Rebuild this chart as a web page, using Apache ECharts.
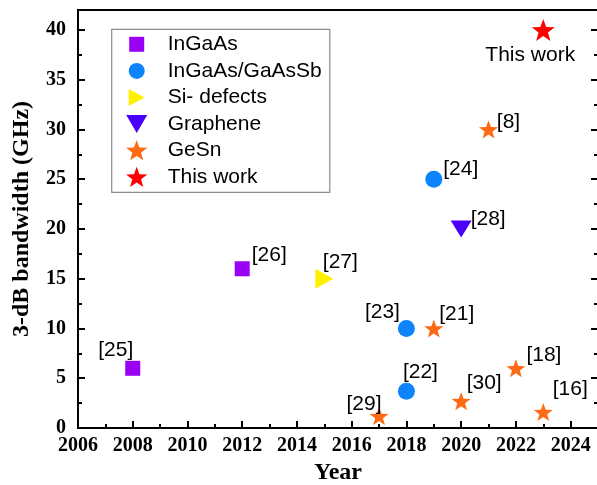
<!DOCTYPE html>
<html>
<head>
<meta charset="utf-8">
<script src="https://cdn.jsdelivr.net/npm/echarts@6/dist/echarts.min.js"></script>
<style>
  html, body { margin: 0; padding: 0; background: #fff; }
  #chart { width: 597px; height: 485px; }
</style>
</head>
<body>
<div id="chart"></div>
<script>
// Year, 3-dB bandwidth (GHz) and reference tag for each photodetector family
const ingaasYears = [2008, 2012];
const ingaasBw = [6, 16];
const ingaasRefs = ['[25]', '[26]'];

const gaassbYears = [2018, 2018, 2019];
const gaassbBw = [10, 3.7, 25];
const gaassbRefs = ['[23]', '[22]', '[24]'];

const siYears = [2015];
const siBw = [15];
const siRefs = ['[27]'];

const grapheneYears = [2020];
const grapheneBw = [20];
const grapheneRefs = ['[28]'];

const gesnYears = [2017, 2019, 2020, 2021, 2022, 2023];
const gesnBw = [1.2, 10, 2.7, 30, 6, 1.6];
const gesnRefs = ['[29]', '[21]', '[30]', '[8]', '[18]', '[16]'];

const thisYears = [2023];
const thisBw = [40];
const thisRefs = ['This work'];

const seriesNames = ['InGaAs', 'InGaAs/GaAsSb', 'Si- defects', 'Graphene', 'GeSn', 'This work'];

// Tick labels shown on the axes
const yearTicks = [2006, 2008, 2010, 2012, 2014, 2016, 2018, 2020, 2022, 2024];
const bwTicks = [0, 5, 10, 15, 20, 25, 30, 35, 40];

// Where each tag sits relative to its marker (pixels)
const tagOffsets = {
  '[25]': [-17, -18], '[26]': [27, -14],
  '[23]': [-24, -16], '[22]': [14, -19], '[24]': [27, -10],
  '[27]': [16, -17], '[28]': [27, -10],
  '[29]': [-15, -12], '[21]': [23, -14], '[30]': [23, -18],
  '[8]': [20, -7], '[18]': [28, -13], '[16]': [27, -23],
  'This work': [-13, 25]
};

const SERIF = '"Liberation Serif", "Times New Roman", serif';
const SANS = '"Liberation Sans", Arial, sans-serif';

// Five-pointed star outline as an SVG path
function starPath(cx, cy, R, ratio) {
  const pts = [];
  for (let k = 0; k < 10; k++) {
    const r = k % 2 === 0 ? R : R * ratio;
    const a = -Math.PI / 2 + k * Math.PI / 5;
    pts.push((cx + r * Math.cos(a)).toFixed(3) + ',' + (cy + r * Math.sin(a)).toFixed(3));
  }
  return 'M' + pts.join('L') + 'Z';
}

const STAR = 'path://' + starPath(0, 0, 10, 0.41);
const TRI_RIGHT = 'path://M0,0L10,5L0,10Z';
const TRI_DOWN = 'path://M0,0L10,0L5,8Z';

// Legend icons live in a 22x22 box so they keep their relative sizes
const BOX = 'M0,0M22,22';
const legendIcons = [
  'path://' + BOX + 'M3.5,3.5L18.5,3.5L18.5,18.5L3.5,18.5Z',
  'path://' + BOX + 'M3,11A8,8,0,1,1,19,11A8,8,0,1,1,3,11Z',
  'path://' + BOX + 'M3,2.5L19,11L3,19.5Z',
  'path://' + BOX + 'M0.5,2L21.5,2L11,20Z',
  'path://' + BOX + starPath(11, 11.6, 11.2, 0.41),
  'path://' + BOX + starPath(11, 11.6, 11.2, 0.41)
];

const colors = ['#9a00f6', '#0d84fb', '#fff000', '#4a00f8', '#ff6a14', '#ff0000'];

function makeSeries(idx, years, bw, refs, symbol, size) {
  return {
    type: 'scatter',
    name: seriesNames[idx],
    symbol: symbol,
    symbolSize: size,
    itemStyle: { color: colors[idx], opacity: 1 },
    emphasis: { disabled: true },
    data: years.map((x, i) => ({
      name: refs[i],
      value: [x, bw[i]],
      label: { offset: tagOffsets[refs[i]] }
    })),
    label: {
      show: true,
      position: 'inside',
      formatter: '{b}',
      color: '#000',
      fontFamily: SANS,
      fontSize: 21,
      align: 'center',
      verticalAlign: 'middle'
    },
    z: 3
  };
}

const tickStyle = { color: '#000', width: 2 };
const tickFont = { fontFamily: SERIF, fontWeight: 'bold', fontSize: 20, color: '#000' };
const nameFont = { fontFamily: SERIF, fontWeight: 'bold', fontSize: 24, color: '#000' };

const option = {
  animation: false,
  backgroundColor: '#fff',
  grid: {
    left: 78, right: -1, top: 10, bottom: 57,
    show: true, borderColor: '#000', borderWidth: 2,
    containLabel: false, outerBoundsMode: 'none'
  },
  legend: {
    orient: 'vertical',
    left: 111.7, top: 29.3,
    padding: [4, 8, 4, 14],
    itemWidth: 52, itemHeight: 22, itemGap: 4.6,
    symbolKeepAspect: true,
    selectedMode: false,
    borderColor: '#8c8c8c', borderWidth: 1.2,
    backgroundColor: '#fff',
    textStyle: { fontFamily: SANS, fontSize: 21, color: '#000', lineHeight: 21 },
    data: seriesNames.map((n, i) => ({ name: n, icon: legendIcons[i] }))
  },
  xAxis: [
    {
      type: 'value', min: 2006, max: 2025, interval: 2, position: 'bottom',
      axisLine: { show: false, onZero: false },
      axisTick: { inside: true, length: 7, lineStyle: tickStyle },
      axisLabel: {
        ...tickFont, margin: 8,
        formatter: v => (yearTicks.includes(v) ? String(v) : '')
      },
      splitLine: { show: false },
      name: 'Year', nameLocation: 'middle', nameGap: 32,
      nameTextStyle: nameFont
    },
    {
      type: 'value', min: 2006, max: 2025, interval: 1, position: 'bottom',
      axisLine: { show: false, onZero: false },
      axisTick: { inside: true, length: 4, lineStyle: tickStyle },
      axisLabel: { show: false },
      splitLine: { show: false }
    }
  ],
  yAxis: [
    {
      type: 'value', min: 0, max: 42, interval: 5, position: 'left',
      axisLine: { show: false, onZero: false },
      axisTick: { inside: true, length: 7, lineStyle: tickStyle },
      axisLabel: {
        ...tickFont, margin: 12,
        formatter: v => (bwTicks.includes(v) ? String(v) : '')
      },
      splitLine: { show: false },
      name: '3-dB bandwidth (GHz)', nameLocation: 'middle', nameGap: 44,
      nameTextStyle: nameFont
    },
    {
      type: 'value', min: 0, max: 42, interval: 2.5, position: 'left',
      axisLine: { show: false, onZero: false },
      axisTick: { inside: true, length: 4, lineStyle: tickStyle },
      axisLabel: { show: false },
      splitLine: { show: false }
    },
    {
      type: 'value', min: 0, max: 42, interval: 5, position: 'right',
      axisLine: { show: false, onZero: false },
      axisTick: { inside: true, length: 7, lineStyle: tickStyle },
      axisLabel: { show: false },
      splitLine: { show: false }
    },
    {
      type: 'value', min: 0, max: 42, interval: 2.5, position: 'right',
      axisLine: { show: false, onZero: false },
      axisTick: { inside: true, length: 4, lineStyle: tickStyle },
      axisLabel: { show: false },
      splitLine: { show: false }
    }
  ],
  series: [
    makeSeries(0, ingaasYears, ingaasBw, ingaasRefs, 'rect', 15),
    makeSeries(1, gaassbYears, gaassbBw, gaassbRefs, 'circle', 17),
    makeSeries(2, siYears, siBw, siRefs, TRI_RIGHT, [18, 20]),
    makeSeries(3, grapheneYears, grapheneBw, grapheneRefs, TRI_DOWN, [21, 17]),
    makeSeries(4, gesnYears, gesnBw, gesnRefs, STAR, [19, 18]),
    makeSeries(5, thisYears, thisBw, thisRefs, STAR, [23, 22])
  ]
};

const chart = echarts.init(document.getElementById('chart'), null, { renderer: 'canvas' });
chart.setOption(option);
</script>
</body>
</html>
